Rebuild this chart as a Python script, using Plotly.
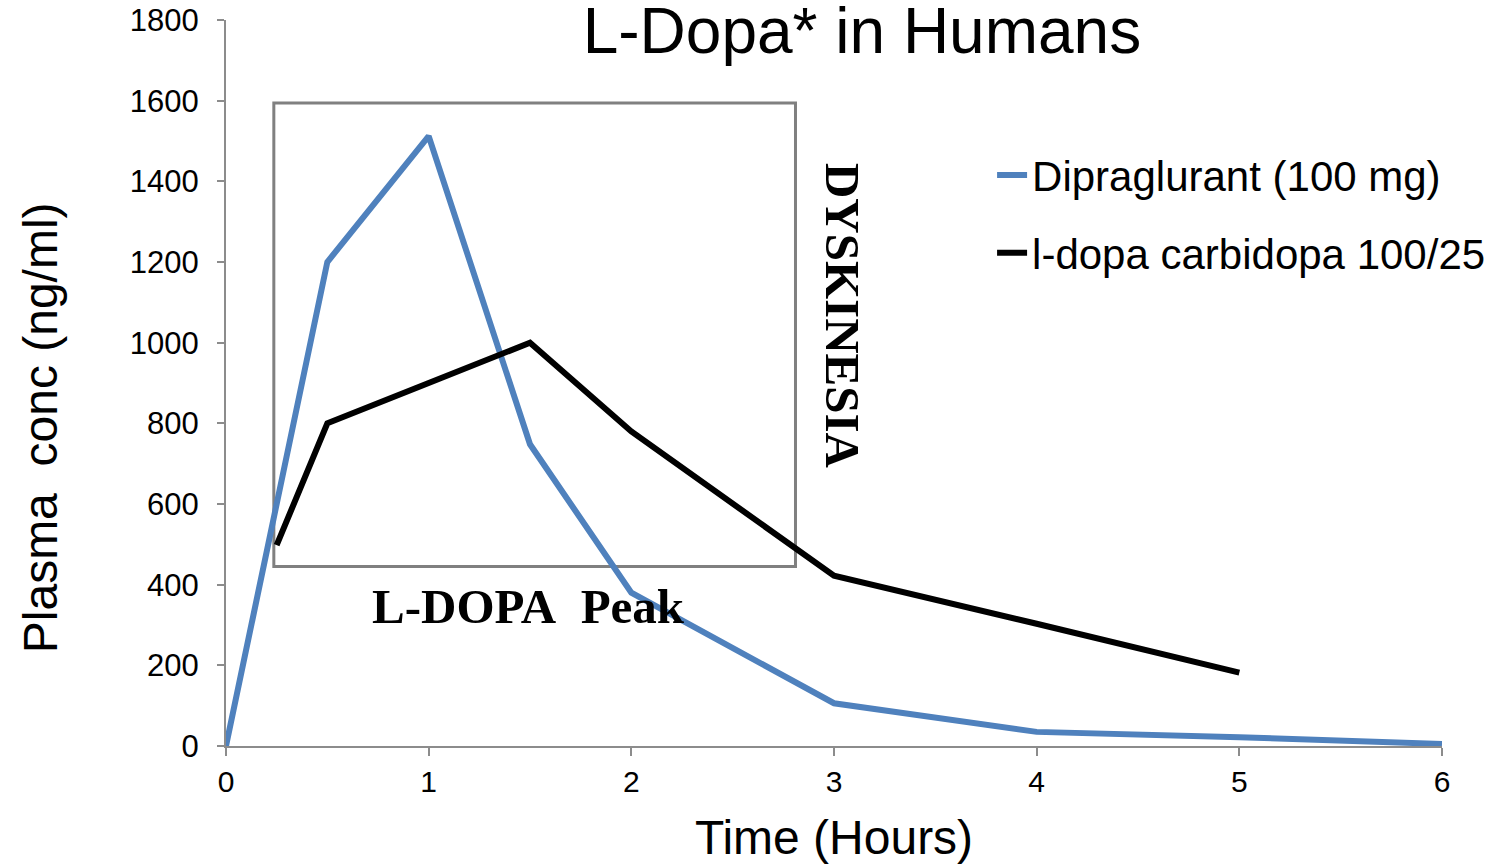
import plotly.graph_objects as go

# time points (hours) and plasma concentrations (ng/ml)
dipra_time = [0, 0.5, 1, 1.5, 2, 3, 4, 5, 6]
dipra_conc = [0, 1200, 1512, 748, 380, 106, 35, 22, 5]

ldopa_time = [0.25, 0.5, 1, 1.5, 2, 3, 4, 5]
ldopa_conc = [498, 800, 900, 1000, 780, 422, 303, 182]

series_names = ["Dipraglurant (100 mg)", "l-dopa carbidopa 100/25"]
x_ticks = [0, 1, 2, 3, 4, 5, 6]
y_ticks = [0, 200, 400, 600, 800, 1000, 1200, 1400, 1600, 1800]

# peak window box (x0, x1, y0, y1)
peak_box = [0.236, 2.81, 445, 1594]

SANS = "Liberation Sans, Arial, sans-serif"
SERIF = "Liberation Serif, Times New Roman, serif"

fig = go.Figure()

fig.add_trace(
    go.Scatter(
        x=dipra_time,
        y=dipra_conc,
        mode="lines",
        name=series_names[0],
        legendgroup="a",
        line={"color": "#4F81BD", "width": 6},
        cliponaxis=False,
    )
)
fig.add_trace(
    go.Scatter(
        x=ldopa_time,
        y=ldopa_conc,
        mode="lines",
        name=series_names[1],
        legendgroup="b",
        line={"color": "#000000", "width": 6},
        cliponaxis=False,
    )
)

fig.add_shape(
    type="rect",
    x0=peak_box[0],
    x1=peak_box[1],
    y0=peak_box[2],
    y1=peak_box[3],
    line={"color": "#808080", "width": 3},
    layer="below",
)

fig.add_annotation(
    x=1.495,
    y=345,
    text="<b>L-DOPA\u00a0\u00a0Peak</b>",
    showarrow=False,
    font={"family": SERIF, "size": 49, "color": "#000"},
)
fig.add_annotation(
    x=3.045,
    y=1066,
    text="<b>DYSKINESIA</b>",
    textangle=90,
    showarrow=False,
    font={"family": SERIF, "size": 49, "color": "#000"},
)
# y axis title, placed a bit below the plot centre as in the original
fig.add_annotation(
    xref="paper",
    yref="paper",
    x=-0.153,
    y=0.439,
    xanchor="center",
    yanchor="middle",
    text="Plasma\u00a0\u00a0conc (ng/ml)",
    textangle=-90,
    showarrow=False,
    font={"family": SANS, "size": 48, "color": "#000"},
)

fig.update_layout(
    width=1496,
    height=864,
    margin={"l": 226, "r": 54, "t": 20, "b": 118, "autoexpand": False},
    paper_bgcolor="white",
    plot_bgcolor="white",
    font={"family": SANS, "color": "#000"},
    showlegend=True,
    title={
        "text": "L-Dopa* in Humans",
        "x": 0.523,
        "xanchor": "center",
        "xref": "paper",
        "y": 0.965,
        "yanchor": "middle",
        "font": {"size": 64, "family": SANS},
    },
    legend={
        "x": 0.630,
        "y": 0.833,
        "xanchor": "left",
        "yanchor": "top",
        "font": {"size": 42, "family": SANS},
        "tracegroupgap": 20,
        "bgcolor": "rgba(0,0,0,0)",
    },
    xaxis={
        "range": [0, 6],
        "tickvals": x_ticks,
        "automargin": False,
        "showgrid": False,
        "zeroline": False,
        "showline": True,
        "linecolor": "#8c8c8c",
        "linewidth": 2,
        "ticks": "outside",
        "ticklen": 8,
        "tickcolor": "#8c8c8c",
        "tickwidth": 2,
        "tickfont": {"size": 30},
        "title": {"text": "Time (Hours)", "font": {"size": 48}, "standoff": 24},
    },
    yaxis={
        "range": [0, 1800],
        "tickvals": y_ticks,
        "automargin": False,
        "showgrid": False,
        "zeroline": False,
        "showline": True,
        "linecolor": "#8c8c8c",
        "linewidth": 2,
        "ticks": "outside",
        "ticklen": 7,
        "tickcolor": "#8c8c8c",
        "tickwidth": 2,
        "ticklabelstandoff": 12,
        "tickfont": {"size": 31},
    },
)

fig.write_html(
    "out.html",
    config={"displayModeBar": False},
    post_script="document.body.style.margin = '0px';",
)
